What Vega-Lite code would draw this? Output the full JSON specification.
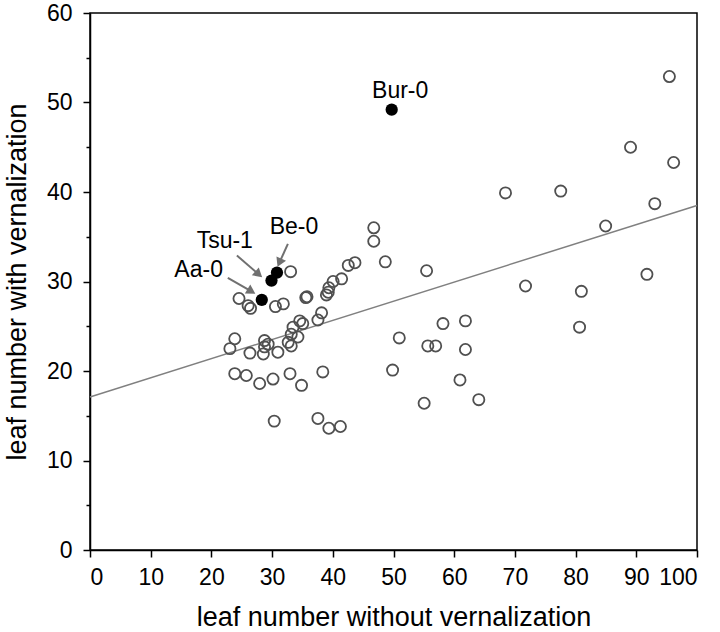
{
  "$schema": "https://vega.github.io/schema/vega-lite/v6.json",
  "width": 607,
  "height": 537,
  "autosize": {"type": "none"},
  "padding": {"left": 90, "top": 13, "right": 23, "bottom": 82},
  "config": {
    "font": "Liberation Sans",
    "view": {"stroke": "black", "strokeWidth": 1.5},
    "axis": {
      "grid": false,
      "domainColor": "black",
      "domainWidth": 1.5,
      "tickColor": "black",
      "tickWidth": 1.5,
      "labelColor": "black",
      "titleColor": "black",
      "labelFont": "Liberation Sans",
      "titleFont": "Liberation Sans",
      "labelFontSize": 23,
      "titleFontSize": 27,
      "titleFontWeight": "normal"
    }
  },
  "datasets": {
    "open": [
      {"x": 24.55, "y": 28.1}, {"x": 26.05, "y": 27.3}, {"x": 26.45, "y": 27.0}, {"x": 33.05, "y": 31.1},
      {"x": 30.55, "y": 27.2}, {"x": 31.85, "y": 27.5}, {"x": 35.55, "y": 28.2}, {"x": 35.75, "y": 28.3},
      {"x": 38.95, "y": 28.5}, {"x": 39.25, "y": 28.8}, {"x": 39.35, "y": 29.3}, {"x": 40.05, "y": 30.0},
      {"x": 41.45, "y": 30.3}, {"x": 42.55, "y": 31.8}, {"x": 43.65, "y": 32.1}, {"x": 38.15, "y": 26.5},
      {"x": 37.55, "y": 25.7}, {"x": 34.55, "y": 25.6}, {"x": 35.05, "y": 25.3}, {"x": 33.45, "y": 24.9},
      {"x": 33.15, "y": 24.1}, {"x": 34.25, "y": 23.8}, {"x": 32.65, "y": 23.2}, {"x": 33.15, "y": 22.8},
      {"x": 30.95, "y": 22.1}, {"x": 28.75, "y": 23.4}, {"x": 29.35, "y": 23.0}, {"x": 28.75, "y": 22.7},
      {"x": 28.55, "y": 21.9}, {"x": 26.35, "y": 22.0}, {"x": 23.85, "y": 23.6}, {"x": 23.05, "y": 22.5},
      {"x": 23.85, "y": 19.7}, {"x": 25.75, "y": 19.5}, {"x": 27.95, "y": 18.6}, {"x": 30.15, "y": 19.1},
      {"x": 32.95, "y": 19.7}, {"x": 34.85, "y": 18.4}, {"x": 38.35, "y": 19.9}, {"x": 30.35, "y": 14.4},
      {"x": 37.55, "y": 14.7}, {"x": 39.35, "y": 13.6}, {"x": 41.25, "y": 13.8}, {"x": 46.75, "y": 36.0},
      {"x": 46.75, "y": 34.5}, {"x": 48.65, "y": 32.2}, {"x": 55.45, "y": 31.2}, {"x": 50.95, "y": 23.7},
      {"x": 58.15, "y": 25.3}, {"x": 61.85, "y": 25.6}, {"x": 55.65, "y": 22.8}, {"x": 56.95, "y": 22.8},
      {"x": 61.85, "y": 22.4}, {"x": 49.85, "y": 20.1}, {"x": 60.95, "y": 19.0}, {"x": 55.05, "y": 16.4},
      {"x": 64.05, "y": 16.8}, {"x": 71.75, "y": 29.5}, {"x": 80.95, "y": 28.9}, {"x": 91.75, "y": 30.8},
      {"x": 80.65, "y": 24.9}, {"x": 95.45, "y": 52.9}, {"x": 89.05, "y": 45.0}, {"x": 96.15, "y": 43.3},
      {"x": 68.45, "y": 39.9}, {"x": 77.55, "y": 40.1}, {"x": 93.05, "y": 38.7}, {"x": 84.95, "y": 36.2}
    ],
    "filled": [
      {"name": "Bur-0", "x": 49.7, "y": 49.2},
      {"name": "Aa-0", "x": 28.3, "y": 27.95},
      {"name": "Tsu-1", "x": 29.9, "y": 30.1},
      {"name": "Be-0", "x": 30.8, "y": 31.0}
    ],
    "fit": [{"x": 0, "y": 17.1}, {"x": 100, "y": 38.5}],
    "arrows": [
      {"name": "Aa-0", "x": 22.7, "y": 30.4, "x2": 26.6, "y2": 28.9, "angle": 121},
      {"name": "Tsu-1", "x": 24.2, "y": 32.9, "x2": 27.8, "y2": 30.8, "angle": 131},
      {"name": "Be-0", "x": 32.6, "y": 34.2, "x2": 31.2, "y2": 32.1, "angle": 204}
    ],
    "labels": [
      {"name": "Bur-0", "x": 51.1, "y": 50.5, "align": "left"},
      {"name": "Be-0", "x": 33.6, "y": 35.3, "align": "center"},
      {"name": "Tsu-1", "x": 22.2, "y": 33.7, "align": "center"},
      {"name": "Aa-0", "x": 17.9, "y": 30.5, "align": "center"}
    ]
  },
  "layer": [
    {
      "data": {"name": "fit"},
      "mark": {"type": "line", "color": "#808080", "strokeWidth": 1.5},
      "encoding": {
        "x": {
          "field": "x", "type": "quantitative",
          "scale": {"domain": [0, 100], "nice": false},
          "axis": {
            "title": "leaf number without vernalization",
            "values": [0,5,10,15,20,25,30,35,40,45,50,55,60,65,70,75,80,85,90,95,100],
            "labelExpr": "datum.value % 10 === 0 ? datum.label : ''",
            "tickSize": {"condition": {"test": "datum.value % 10 === 0", "value": 7}, "value": 4},
            "labelPadding": 9,
            "titleBaseline": "alphabetic",
            "titleY": 75
          }
        },
        "y": {
          "field": "y", "type": "quantitative",
          "scale": {"domain": [0, 60], "nice": false},
          "axis": {
            "title": "leaf number with vernalization",
            "values": [0,5,10,15,20,25,30,35,40,45,50,55,60],
            "labelExpr": "datum.value % 10 === 0 ? datum.label : ''",
            "tickSize": {"condition": {"test": "datum.value % 10 === 0", "value": 7}, "value": 4},
            "labelPadding": 11,
            "titleBaseline": "alphabetic",
            "titleX": -65
          }
        }
      }
    },
    {
      "data": {"name": "open"},
      "mark": {"type": "point", "shape": "circle", "filled": false, "stroke": "#505050", "strokeWidth": 1.8, "size": 125, "opacity": 1},
      "encoding": {
        "x": {"field": "x", "type": "quantitative"},
        "y": {"field": "y", "type": "quantitative"}
      }
    },
    {
      "data": {"name": "arrows"},
      "mark": {"type": "rule", "color": "#707070", "strokeWidth": 2},
      "encoding": {
        "x": {"field": "x", "type": "quantitative"},
        "y": {"field": "y", "type": "quantitative"},
        "x2": {"field": "x2"},
        "y2": {"field": "y2"}
      }
    },
    {
      "data": {"name": "arrows"},
      "mark": {"type": "point", "shape": "triangle-up", "filled": true, "color": "#707070", "size": 110, "opacity": 1},
      "encoding": {
        "x": {"field": "x2", "type": "quantitative"},
        "y": {"field": "y2", "type": "quantitative"},
        "angle": {"field": "angle", "type": "quantitative", "scale": null}
      }
    },
    {
      "data": {"name": "filled"},
      "mark": {"type": "point", "shape": "circle", "filled": true, "color": "black", "size": 150, "opacity": 1},
      "encoding": {
        "x": {"field": "x", "type": "quantitative"},
        "y": {"field": "y", "type": "quantitative"}
      }
    },
    {
      "data": {"name": "labels"},
      "mark": {"type": "text", "fontSize": 23, "color": "black", "baseline": "alphabetic", "font": "Liberation Sans"},
      "encoding": {
        "x": {"field": "x", "type": "quantitative"},
        "y": {"field": "y", "type": "quantitative"},
        "text": {"field": "name"},
        "align": {"field": "align", "type": "nominal", "scale": null}
      }
    }
  ]
}
